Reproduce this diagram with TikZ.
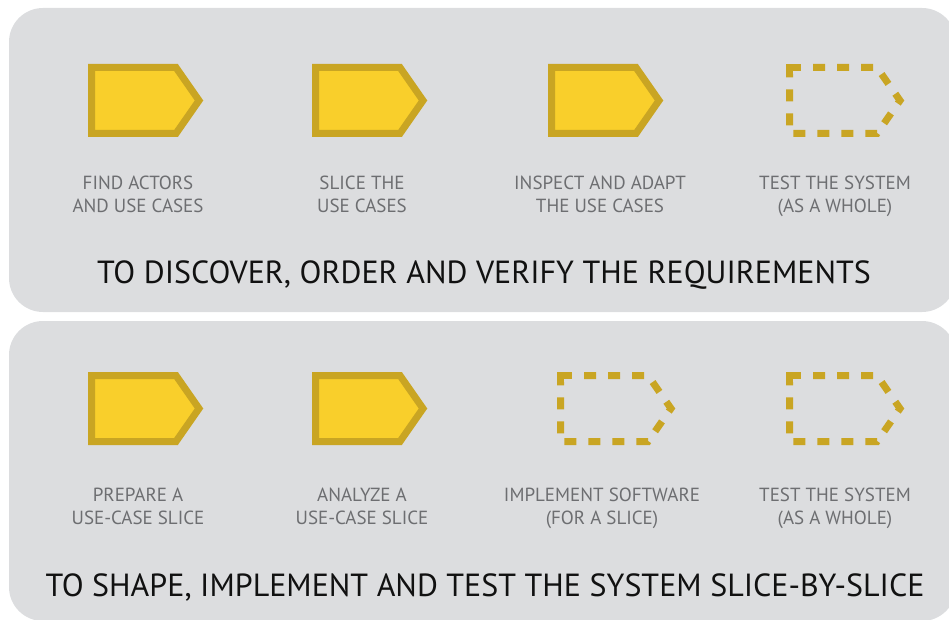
\documentclass[tikz,border=0pt]{standalone}
\usepackage{fontspec}
\setmainfont{PT Sans}
\definecolor{panelgray}{HTML}{DCDDDF}
\definecolor{stepfill}{HTML}{F9CF2B}
\definecolor{stepline}{HTML}{C9A523}
\definecolor{labelgray}{HTML}{6D6E71}
\definecolor{titleblack}{HTML}{111111}
\tikzset{
  panel/.style={fill=panelgray, rounded corners=34pt},
  steplabel/.style={text=labelgray, align=center, font=\fontsize{19}{23}\selectfont, inner sep=0pt},
  paneltitle/.style={text=titleblack, font=\fontsize{32}{40}\selectfont, inner sep=0pt},
  solidstep/.pic={
    \draw[fill=stepfill, draw=stepline, line width=7pt, miter limit=10]
      (3.5,3.5) -- (88,3.5) -- (111,36.5) -- (88,69.5) -- (3.5,69.5) -- cycle;
  },
  dashstep/.pic={
    \draw[draw=stepline, line width=7pt]
      (3.5,10) -- (3.5,3.5) -- (15,3.5);
    \draw[draw=stepline, line width=7pt, dash pattern=on 12pt off 12pt, dash phase=12pt]
      (15,3.5) -- (91,3.5) -- (114,36.5) -- (91,69.5) -- (3.5,69.5) -- (3.5,10);
  }
}
\begin{document}
\begin{tikzpicture}[x=1pt, y=-1pt]
\useasboundingbox (0,0) rectangle (949,620);
\clip (0,0) rectangle (949,620);
% panels
\fill[panel] (9,8) rectangle (956,312);
\fill[panel] (9,321) rectangle (956,621);
% top row
\pic at (88,64) {solidstep};
\pic at (312,64) {solidstep};
\pic at (548,64) {solidstep};
\pic at (786,64) {dashstep};
\node[steplabel] (l1) at (138,194) {FIND ACTORS\\AND USE CASES};
\node[steplabel] (l2) at (362,194) {SLICE THE\\USE CASES};
\node[steplabel] (l3) at (600,194) {INSPECT AND ADAPT\\THE USE CASES};
\node[steplabel] (l4) at (835,196) {TEST THE SYSTEM\\(AS A WHOLE)};
\node[paneltitle] (t1) at (484,275) {TO DISCOVER, ORDER AND VERIFY THE REQUIREMENTS};
% bottom row
\pic at (88,372) {solidstep};
\pic at (312,372) {solidstep};
\pic at (557,372) {dashstep};
\pic at (786,372) {dashstep};
\node[steplabel] (m1) at (138,506) {PREPARE A\\USE-CASE SLICE};
\node[steplabel] (m2) at (362,506) {ANALYZE A\\USE-CASE SLICE};
\node[steplabel] (m3) at (602,508) {IMPLEMENT SOFTWARE\\(FOR A SLICE)};
\node[steplabel] (m4) at (835,508) {TEST THE SYSTEM\\(AS A WHOLE)};
\node[paneltitle] (t2) at (485,587) {TO SHAPE, IMPLEMENT AND TEST THE SYSTEM SLICE-BY-SLICE};
\end{tikzpicture}
\end{document}
